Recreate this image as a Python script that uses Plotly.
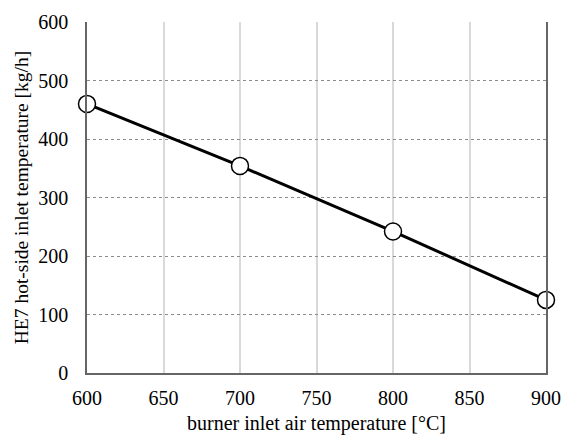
import plotly.graph_objects as go

# burner inlet air temperature [°C] vs HE7 hot-side inlet value
air_temp = [600, 700, 800, 900]
he7_inlet = [460, 354, 242, 125]

x_ticks = [600, 650, 700, 750, 800, 850, 900]
y_ticks = [0, 100, 200, 300, 400, 500, 600]

font_family = "Liberation Serif, Times New Roman, serif"

fig = go.Figure()
fig.add_trace(go.Scatter(
    x=air_temp, y=he7_inlet,
    mode="lines+markers",
    line=dict(color="black", width=3),
    marker=dict(size=17, color="white", line=dict(color="black", width=1.5)),
    cliponaxis=False,
    showlegend=False,
))

fig.update_layout(
    width=567, height=437,
    margin=dict(l=87, r=21, t=22, b=64, autoexpand=False),
    paper_bgcolor="white", plot_bgcolor="white",
    font=dict(family=font_family, size=20, color="black"),
    xaxis=dict(
        range=[600, 900], tickvals=x_ticks, automargin=False,
        showgrid=True, gridcolor="#d9d9d9", gridwidth=1.5,
        showline=True, linecolor="#666666", linewidth=1.5,
        zeroline=False, ticks="", ticklabelstandoff=6,
        title=dict(text="burner inlet air temperature [°C]", standoff=8,
                   font=dict(family=font_family, size=20)),
    ),
    yaxis=dict(
        range=[0, 600], tickvals=y_ticks, automargin=False,
        showgrid=True, gridcolor="#8c8c8c", gridwidth=1, griddash="dot",
        showline=True, linecolor="#666666", linewidth=1.5, mirror=True,
        zeroline=False, ticks="", ticklabelstandoff=13,
        title=dict(text="HE7 hot-side inlet temperature [kg/h]", standoff=4,
                   font=dict(family=font_family, size=19.5)),
    ),
)

fig.write_html("out.html")
